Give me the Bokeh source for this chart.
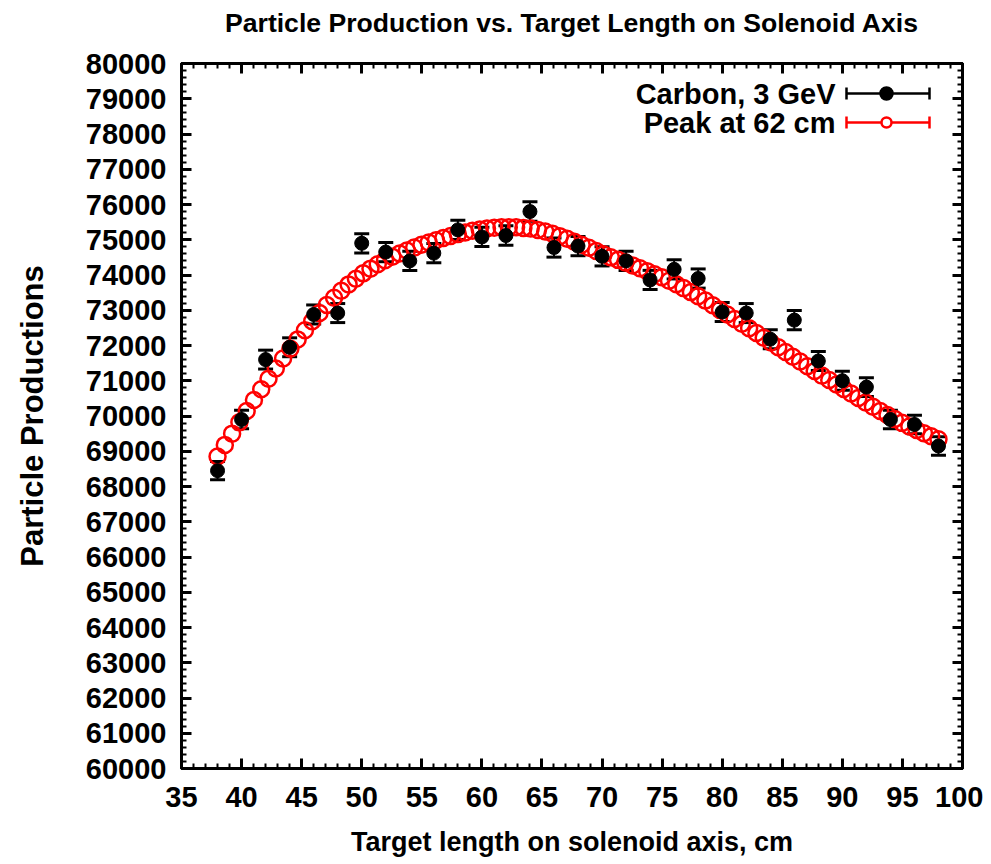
from bokeh.plotting import figure
from bokeh.models import (ColumnDataSource, Whisker, TeeHead, Label, BoxAnnotation,
                          LinearAxis, SingleIntervalTicker, Range1d, CustomLabelingPolicy)
from bokeh.embed import file_html
from bokeh.resources import INLINE

# ---- data ----
target_cm = [38, 40, 42, 44, 46, 48, 50, 52, 54, 56, 58, 60, 62, 64, 66, 68,
             70, 72, 74, 76, 78, 80, 82, 84, 86, 88, 90, 92, 94, 96, 98]
carbon_3gev = [68450, 69900, 71600, 71950, 72880, 72920, 74900, 74650, 74400, 74620,
               75280, 75080, 75120, 75800, 74780, 74820, 74530, 74400, 73860, 74160,
               73900, 72950, 72920, 72180, 72720, 71560, 71000, 70820, 69900, 69760,
               69150]
carbon_err = [262, 264, 268, 268, 270, 270, 273, 273, 273, 273, 274, 274, 274, 275,
              273, 273, 273, 273, 272, 272, 272, 270, 270, 269, 270, 267, 266, 266,
              264, 264, 263]

fit_cm = [38.000, 38.606, 39.212, 39.818, 40.424, 41.030, 41.636, 42.242, 42.848, 43.455,
          44.061, 44.667, 45.273, 45.879, 46.485, 47.091, 47.697, 48.303, 48.909, 49.515,
          50.121, 50.727, 51.333, 51.939, 52.545, 53.152, 53.758, 54.364, 54.970, 55.576,
          56.182, 56.788, 57.394, 58.000, 58.606, 59.212, 59.818, 60.424, 61.030, 61.636,
          62.242, 62.848, 63.455, 64.061, 64.667, 65.273, 65.879, 66.485, 67.091, 67.697,
          68.303, 68.909, 69.515, 70.121, 70.727, 71.333, 71.939, 72.545, 73.152, 73.758,
          74.364, 74.970, 75.576, 76.182, 76.788, 77.394, 78.000, 78.606, 79.212, 79.818,
          80.424, 81.030, 81.636, 82.242, 82.848, 83.455, 84.061, 84.667, 85.273, 85.879,
          86.485, 87.091, 87.697, 88.303, 88.909, 89.515, 90.121, 90.727, 91.333, 91.939,
          92.545, 93.152, 93.758, 94.364, 94.970, 95.576, 96.182, 96.788, 97.394, 98.000]
fit_prod = [68850, 69180, 69500, 69820, 70140, 70455, 70758, 71056, 71347, 71629,
            71907, 72173, 72435, 72689, 72924, 73151, 73357, 73551, 73733, 73894,
            74047, 74180, 74303, 74418, 74517, 74611, 74696, 74777, 74856, 74923,
            74988, 75049, 75105, 75160, 75208, 75253, 75289, 75317, 75341, 75353,
            75358, 75352, 75336, 75316, 75280, 75233, 75172, 75102, 75027, 74942,
            74858, 74773, 74683, 74592, 74501, 74430, 74354, 74273, 74191, 74109,
            74023, 73935, 73836, 73737, 73628, 73515, 73400, 73274, 73143, 73011,
            72880, 72752, 72618, 72487, 72355, 72219, 72085, 71950, 71815, 71680,
            71546, 71411, 71279, 71146, 71019, 70892, 70765, 70637, 70510, 70383,
            70261, 70141, 70026, 69914, 69805, 69702, 69603, 69512, 69425, 69340]

x_start, x_end = 35, 100
y_start, y_end = 60000, 80000
title_text = "Particle Production vs. Target Length on Solenoid Axis"
x_label = "Target length on solenoid axis, cm"
y_label = "Particle Productions"
series_names = ["Carbon, 3 GeV", "Peak at 62 cm"]

FONT = "Liberation Sans"
STYLE = "bold"
W, H = 983, 860
BL, BR, BT, BB = 181, 21, 63, 92
frame_w = W - BL - BR
frame_h = H - BT - BB

p = figure(width=W, height=H, output_backend="svg", toolbar_location=None,
           x_range=Range1d(x_start, x_end), y_range=Range1d(y_start, y_end),
           min_border_left=BL, min_border_right=BR, min_border_top=BT, min_border_bottom=BB,
           x_axis_location=None, y_axis_location=None, title=title_text)
p.grid.visible = False
p.outline_line_color = "black"
p.outline_line_width = 3
p.background_fill_color = "white"
p.border_fill_color = "white"

p.title.align = "center"
p.title.text_font = FONT
p.title.text_font_size = "26.6px"
p.title.text_font_style = STYLE
p.title.text_color = "black"
p.title.standoff = 0
# extra space under the title text keeps it high above the plot box, as in the original
p.title.padding = dict(left=0, right=0, top=0, bottom=26)

no_labels = CustomLabelingPolicy(code="for (const i of indices) indices.unset(i)")


def make_axis(kind, labels):
    if kind == "x":
        tk = SingleIntervalTicker(interval=5, num_minor_ticks=5)
    else:
        tk = SingleIntervalTicker(interval=1000, num_minor_ticks=5)
    ax = LinearAxis(ticker=tk)
    ax.major_tick_in = 10
    ax.major_tick_out = 0
    ax.minor_tick_in = 5
    ax.minor_tick_out = 0
    ax.major_tick_line_width = 3
    ax.minor_tick_line_width = 2
    ax.axis_line_width = 3
    ax.axis_line_color = "black"
    if labels:
        ax.major_label_text_font = FONT
        ax.major_label_text_font_size = "29px"
        ax.major_label_text_font_style = STYLE
        ax.major_label_text_color = "black"
        ax.axis_label_text_font = FONT
        ax.axis_label_text_font_style = STYLE
        ax.axis_label_text_color = "black"
    else:
        ax.major_label_text_font_size = "0px"
        ax.major_label_standoff = 0
        ax.major_label_policy = no_labels
    return ax


xb = make_axis("x", True)
xb.axis_label = x_label
xb.axis_label_text_font_size = "27px"
xb.major_label_standoff = 18
xb.axis_label_standoff = 17
p.add_layout(xb, "below")

yl = make_axis("y", True)
yl.axis_label = y_label
yl.axis_label_text_font_size = "31px"
yl.major_label_standoff = 15
yl.axis_label_standoff = 33
p.add_layout(yl, "left")

p.add_layout(make_axis("x", False), "above")
p.add_layout(make_axis("y", False), "right")

# ---- fitted curve (red open circles) ----
fit_src = ColumnDataSource(dict(x=fit_cm, y=fit_prod))
p.scatter("x", "y", source=fit_src, marker="circle", size=16, fill_color=None,
          line_color="#ff0000", line_width=2.5)

# ---- data points with error bars ----
lo = [v - e for v, e in zip(carbon_3gev, carbon_err)]
hi = [v + e for v, e in zip(carbon_3gev, carbon_err)]
dat_src = ColumnDataSource(dict(x=target_cm, y=carbon_3gev, lo=lo, hi=hi))
p.add_layout(Whisker(source=dat_src, base="x", lower="lo", upper="hi", dimension="height",
                     line_color="black", line_width=2,
                     upper_head=TeeHead(size=15, line_color="black", line_width=3),
                     lower_head=TeeHead(size=15, line_color="black", line_width=3)))
p.scatter("x", "y", source=dat_src, marker="circle", size=14, fill_color="black",
          line_color="black")

# ---- legend (gnuplot style: text left, sample right) ----
leg_rows = [frame_h - 30, frame_h - 59]
leg_colors = ["black", "#ff0000"]
for name, sy, col in zip(series_names, leg_rows, leg_colors):
    p.add_layout(Label(x=654, y=sy, x_units="screen", y_units="screen", text=name,
                       text_align="right", text_baseline="middle", text_font=FONT,
                       text_font_size="29px", text_font_style=STYLE, text_color="black"))
    wsrc = ColumnDataSource(dict(b=[sy], l=[665], u=[748]))
    p.add_layout(Whisker(source=wsrc, base="b", lower="l", upper="u", dimension="width",
                         base_units="screen", lower_units="screen", upper_units="screen",
                         line_color=col, line_width=2.5,
                         upper_head=TeeHead(size=12, line_color=col, line_width=2.5),
                         lower_head=TeeHead(size=12, line_color=col, line_width=2.5)))
    r = 6 if col == "black" else 5
    p.add_layout(BoxAnnotation(left=705 - r, right=705 + r, top=sy + r, bottom=sy - r,
                               left_units="screen", right_units="screen",
                               top_units="screen", bottom_units="screen",
                               border_radius=r,
                               fill_color="black" if col == "black" else "white",
                               fill_alpha=1.0, line_color=col, line_width=2.5,
                               line_alpha=1.0))

open("out.html", "w").write(file_html(p, INLINE))
